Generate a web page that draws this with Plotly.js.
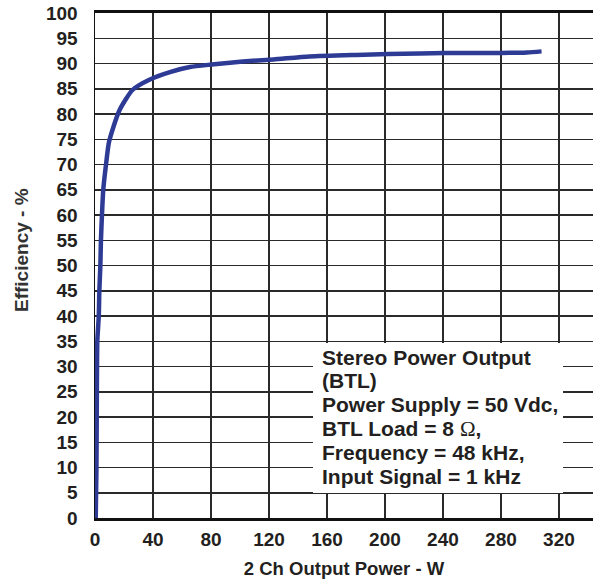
<!DOCTYPE html>
<html>
<head>
<meta charset="utf-8">
<script src="https://cdn.plot.ly/plotly-3.0.1.min.js"></script>
<style>html,body{margin:0;padding:0;background:#fff;}#chart{width:593px;height:581px;}</style>
</head>
<body>
<div id="chart"></div>
<script>
// Data
const outputPowerW = [0.5, 1.0, 1.2, 1.6, 2.6, 3.0, 3.7, 4.1, 4.8, 5.7, 7.6, 9.7, 16.8, 26.0, 37.5, 51.7, 65.5, 80.5, 102, 123, 148, 180, 224, 260, 280, 298, 308];
const efficiencyPct = [0, 10, 20, 35, 40, 45, 50, 55, 60, 65, 70, 74.5, 80.7, 84.8, 86.8, 88.3, 89.3, 89.8, 90.4, 90.8, 91.4, 91.7, 92.0, 92.1, 92.1, 92.2, 92.4];
const xTickVals = [0, 40, 80, 120, 160, 200, 240, 280, 320];
const yTickVals = [0,5,10,15,20,25,30,35,40,45,50,55,60,65,70,75,80,85,90,95,100];
const xTitle = "2 Ch Output Power - W";
const yTitle = "Efficiency - %";
const noteLines = [
  "Stereo Power Output",
  "(BTL)",
  "Power Supply = 50 Vdc,",
  "BTL Load = 8 <span style=\"font-family:'Liberation Serif';font-weight:normal\">Ω</span>,",
  "Frequency = 48 kHz,",
  "Input Signal = 1 kHz"
];

const font = {family: "'Liberation Sans', Arial, sans-serif", color: "#231f20"};

const trace = {
  x: outputPowerW, y: efficiencyPct, type: "scatter", mode: "lines",
  line: {color: "#2e3b95", width: 4.5, shape: "spline", smoothing: 0.6},
  hoverinfo: "skip"
};

const noteTop = 0.3188, noteStep = 0.0475;
const annotations = noteLines.map((t, i) => ({
  xref: "paper", yref: "paper", x: 0.451, y: noteTop - i * noteStep,
  xanchor: "left", yanchor: "middle", align: "left", showarrow: false,
  text: "<b>" + t + "</b>",
  font: {...font, size: 21, weight: "bold"}
}));
annotations.push({
  xref: "paper", yref: "paper", x: -0.1466, y: 0.5307,
  xanchor: "center", yanchor: "middle", textangle: -90, showarrow: false,
  text: "<b>" + yTitle + "</b>",
  font: {...font, color: "#333", size: 19, weight: "bold"}
});

const layout = {
  width: 593, height: 581,
  margin: {l: 95, r: 0, t: 13, b: 63},
  paper_bgcolor: "#fff", plot_bgcolor: "#fff",
  showlegend: false,
  xaxis: {
    range: [0, 343.5], tickvals: xTickVals, ticktext: xTickVals.map(v => "<b>" + v + "</b>"),
    showgrid: true, gridcolor: "#2a2a2a", gridwidth: 1.5,
    showline: true, linecolor: "#111", linewidth: 3, mirror: true,
    zeroline: false, ticks: "", ticklabelstandoff: 2,
    tickfont: {...font, size: 19, weight: "bold"},
    title: {text: "<b>" + xTitle + "</b>", font: {...font, size: 18.5, weight: "bold"}, standoff: 14}
  },
  yaxis: {
    range: [0, 100], tickvals: yTickVals, ticktext: yTickVals.map(v => "<b>" + v + "</b>"),
    showgrid: true, gridcolor: "#2a2a2a", gridwidth: 1.5,
    showline: true, linecolor: "#111", linewidth: 1.5, mirror: false,
    zeroline: false, ticks: "", ticklabelstandoff: 12,
    tickfont: {...font, size: 19, weight: "bold"}
  },
  shapes: [{
    type: "rect", xref: "paper", yref: "paper",
    x0: 0.4378, x1: 0.9398, y0: 0.0495, y1: 0.3465,
    fillcolor: "#fff", line: {width: 0}, layer: "above"
  }],
  annotations: annotations
};

Plotly.newPlot("chart", [trace], layout, {staticPlot: true, displayModeBar: false});
</script>
</body>
</html>
